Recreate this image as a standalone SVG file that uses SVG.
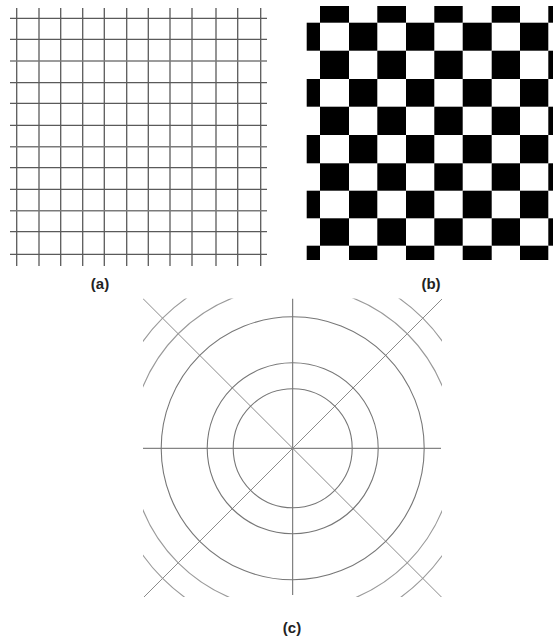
<svg xmlns="http://www.w3.org/2000/svg" width="553" height="640" viewBox="0 0 553 640">
  <style>
    .g { stroke: #5a5a5a; stroke-width: 1.3; fill: none; }
    .gl { stroke: #7a7a7a; stroke-width: 1.5; fill: none; }
    .blk { fill: #000000; }
    .ax { stroke: #666666; stroke-width: 1; fill: none; }
    .dg { stroke: #8a8a8a; stroke-width: 1; fill: none; }
    .ci { stroke: #777777; stroke-width: 1.1; fill: none; }
    .arc { stroke: #9a9a9a; stroke-width: 1.1; fill: none; }
    .lbl { font-family: "Liberation Sans", Arial, sans-serif; font-weight: bold; font-size: 15px; fill: #222222; text-anchor: middle; }
  </style>
  <defs>
    <clipPath id="clipC">
      <rect x="143" y="298.5" width="299" height="298.5"/>
    </clipPath>
  </defs>
  <rect x="0" y="0" width="553" height="640" fill="#ffffff"/>

  <!-- Panel (a): square grid -->
  <g id="panel-a">
    <g id="a-vertical">
      <line class="g" x1="16.7" y1="8" x2="16.7" y2="266"/>
      <line class="g" x1="39" y1="8" x2="39" y2="266"/>
      <line class="g" x1="60.7" y1="8" x2="60.7" y2="266"/>
      <line class="g" x1="82.7" y1="8" x2="82.7" y2="266"/>
      <line class="g" x1="104.3" y1="8" x2="104.3" y2="266"/>
      <line class="g" x1="126.7" y1="8" x2="126.7" y2="266"/>
      <line class="g" x1="148.3" y1="8" x2="148.3" y2="266"/>
      <line class="g" x1="170" y1="8" x2="170" y2="266"/>
      <line class="g" x1="192" y1="8" x2="192" y2="266"/>
      <line class="g" x1="216" y1="8" x2="216" y2="266"/>
      <line class="g" x1="237.7" y1="8" x2="237.7" y2="266"/>
      <line class="g" x1="260.7" y1="8" x2="260.7" y2="266"/>
    </g>
    <g id="a-horizontal">
      <line class="g" x1="10" y1="18.3" x2="267" y2="18.3"/>
      <line class="g" x1="10" y1="39.3" x2="267" y2="39.3"/>
      <line class="gl" x1="10" y1="61" x2="267" y2="61"/>
      <line class="g" x1="10" y1="82.7" x2="267" y2="82.7"/>
      <line class="g" x1="10" y1="103.3" x2="267" y2="103.3"/>
      <line class="g" x1="10" y1="125.3" x2="267" y2="125.3"/>
      <line class="gl" x1="10" y1="146.7" x2="267" y2="146.7"/>
      <line class="g" x1="10" y1="167.7" x2="267" y2="167.7"/>
      <line class="g" x1="10" y1="189.3" x2="267" y2="189.3"/>
      <line class="gl" x1="10" y1="210.7" x2="267" y2="210.7"/>
      <line class="g" x1="10" y1="231.7" x2="267" y2="231.7"/>
      <line class="g" x1="10" y1="254.3" x2="267" y2="254.3"/>
    </g>
  </g>

  <!-- Panel (b): checkerboard -->
  <g id="panel-b">
    <!-- row 0 (partial top) -->
    <rect class="blk" x="320" y="6" width="29" height="16.7"/>
    <rect class="blk" x="377.3" y="6" width="28.7" height="16.7"/>
    <rect class="blk" x="434.3" y="6" width="28.4" height="16.7"/>
    <rect class="blk" x="491.7" y="6" width="28.3" height="16.7"/>
    <rect class="blk" x="548.3" y="6" width="4.7" height="16.7"/>
    <!-- row 1 -->
    <rect class="blk" x="306.7" y="22.7" width="13.3" height="28"/>
    <rect class="blk" x="349" y="22.7" width="28.3" height="28"/>
    <rect class="blk" x="406" y="22.7" width="28.3" height="28"/>
    <rect class="blk" x="462.7" y="22.7" width="29" height="28"/>
    <rect class="blk" x="520" y="22.7" width="28.3" height="28"/>
    <!-- row 2 -->
    <rect class="blk" x="320" y="50.7" width="29" height="28.3"/>
    <rect class="blk" x="377.3" y="50.7" width="28.7" height="28.3"/>
    <rect class="blk" x="434.3" y="50.7" width="28.4" height="28.3"/>
    <rect class="blk" x="491.7" y="50.7" width="28.3" height="28.3"/>
    <rect class="blk" x="548.3" y="50.7" width="4.7" height="28.3"/>
    <!-- row 3 -->
    <rect class="blk" x="306.7" y="79" width="13.3" height="27.7"/>
    <rect class="blk" x="349" y="79" width="28.3" height="27.7"/>
    <rect class="blk" x="406" y="79" width="28.3" height="27.7"/>
    <rect class="blk" x="462.7" y="79" width="29" height="27.7"/>
    <rect class="blk" x="520" y="79" width="28.3" height="27.7"/>
    <!-- row 4 -->
    <rect class="blk" x="320" y="106.7" width="29" height="28.3"/>
    <rect class="blk" x="377.3" y="106.7" width="28.7" height="28.3"/>
    <rect class="blk" x="434.3" y="106.7" width="28.4" height="28.3"/>
    <rect class="blk" x="491.7" y="106.7" width="28.3" height="28.3"/>
    <rect class="blk" x="548.3" y="106.7" width="4.7" height="28.3"/>
    <!-- row 5 -->
    <rect class="blk" x="306.7" y="135" width="13.3" height="28.3"/>
    <rect class="blk" x="349" y="135" width="28.3" height="28.3"/>
    <rect class="blk" x="406" y="135" width="28.3" height="28.3"/>
    <rect class="blk" x="462.7" y="135" width="29" height="28.3"/>
    <rect class="blk" x="520" y="135" width="28.3" height="28.3"/>
    <!-- row 6 -->
    <rect class="blk" x="320" y="163.3" width="29" height="27.4"/>
    <rect class="blk" x="377.3" y="163.3" width="28.7" height="27.4"/>
    <rect class="blk" x="434.3" y="163.3" width="28.4" height="27.4"/>
    <rect class="blk" x="491.7" y="163.3" width="28.3" height="27.4"/>
    <rect class="blk" x="548.3" y="163.3" width="4.7" height="27.4"/>
    <!-- row 7 -->
    <rect class="blk" x="306.7" y="190.7" width="13.3" height="27.6"/>
    <rect class="blk" x="349" y="190.7" width="28.3" height="27.6"/>
    <rect class="blk" x="406" y="190.7" width="28.3" height="27.6"/>
    <rect class="blk" x="462.7" y="190.7" width="29" height="27.6"/>
    <rect class="blk" x="520" y="190.7" width="28.3" height="27.6"/>
    <!-- row 8 -->
    <rect class="blk" x="320" y="218.3" width="29" height="27.4"/>
    <rect class="blk" x="377.3" y="218.3" width="28.7" height="27.4"/>
    <rect class="blk" x="434.3" y="218.3" width="28.4" height="27.4"/>
    <rect class="blk" x="491.7" y="218.3" width="28.3" height="27.4"/>
    <rect class="blk" x="548.3" y="218.3" width="4.7" height="27.4"/>
    <!-- row 9 (partial bottom) -->
    <rect class="blk" x="306.7" y="245.7" width="13.3" height="14.3"/>
    <rect class="blk" x="349" y="245.7" width="28.3" height="14.3"/>
    <rect class="blk" x="406" y="245.7" width="28.3" height="14.3"/>
    <rect class="blk" x="462.7" y="245.7" width="29" height="14.3"/>
    <rect class="blk" x="520" y="245.7" width="28.3" height="14.3"/>
  </g>

  <!-- Panel (c): polar grid -->
  <g id="panel-c" clip-path="url(#clipC)">
    <line class="ax" x1="143" y1="448.3" x2="441" y2="448.3"/>
    <line class="ax" x1="292.7" y1="298.5" x2="292.7" y2="595"/>
    <line class="dg" x1="142.7" y1="298.3" x2="442.7" y2="598.3"/>
    <line class="dg" x1="442.7" y1="298.3" x2="142.7" y2="598.3"/>
    <circle class="ci" cx="292.7" cy="448.3" r="59.5"/>
    <circle class="ci" cx="292.7" cy="448.3" r="85.5"/>
    <circle class="ci" cx="292.7" cy="448.3" r="131.5"/>
    <circle class="arc" cx="292.7" cy="448.3" r="162"/>
    <circle class="arc" cx="292.7" cy="448.3" r="184"/>
  </g>

  <!-- Labels -->
  <g id="labels">
    <text class="lbl" x="100" y="289">(a)</text>
    <text class="lbl" x="431" y="289">(b)</text>
    <text class="lbl" x="292" y="633">(c)</text>
  </g>
</svg>
